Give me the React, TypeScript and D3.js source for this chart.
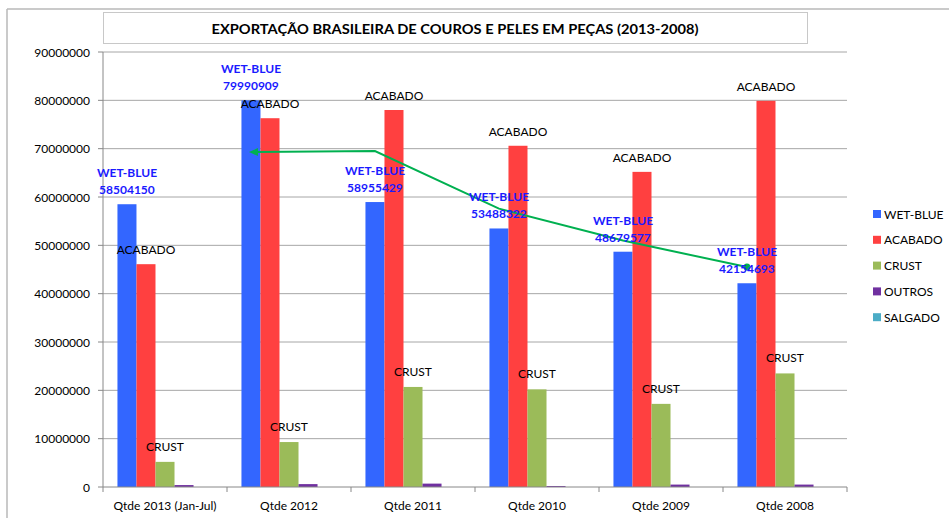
import React from "react";
import * as d3 from "d3";

const categories = ["Qtde 2013 (Jan-Jul)", "Qtde 2012", "Qtde 2011", "Qtde 2010", "Qtde 2009", "Qtde 2008"];
const seriesNames = ["WET-BLUE", "ACABADO", "CRUST", "OUTROS", "SALGADO"];
const wetBlue = [58504150, 79990909, 58955429, 53488322, 48679577, 42154693];
const acabado = [46100000, 76300000, 78000000, 70600000, 65200000, 79900000];
const crust = [5200000, 9300000, 20700000, 20200000, 17200000, 23500000];
const outros = [400000, 600000, 700000, 200000, 500000, 500000];
const salgado = [0, 0, 0, 0, 0, 0];
const yTicks = [0, 10000000, 20000000, 30000000, 40000000, 50000000, 60000000, 70000000, 80000000, 90000000];
// hand-drawn trend arrow (category index, value)
const trendCats = [1, 2, 3, 4, 5];
const trendVals = [69300000, 69500000, 57600000, 51000000, 45500000];
const title = "EXPORTAÇÃO BRASILEIRA DE COUROS E PELES EM PEÇAS (2013-2008)";

const colors = ["#3366FF", "#FF4040", "#9BBB59", "#7030A0", "#4BACC6"];
const FONT = "Lato, 'Open Sans', sans-serif";

export default function App() {
  const W = 949, H = 518;
  const left = 103, right = 847, top = 52, bottom = 487;
  const series = [wetBlue, acabado, crust, outros, salgado];
  const x0 = d3.scaleBand<string>().domain(categories).range([left, right]).paddingInner(0).paddingOuter(0);
  const x1 = d3.scaleBand<string>().domain(seriesNames).range([0, x0.bandwidth()]).paddingInner(0).paddingOuter(0.76);
  const y = d3.scaleLinear().domain([0, 90000000]).range([bottom, top]);
  const bw = x1.bandwidth();
  const cx = (ci: number, s: string) => (x0(categories[ci]) as number) + (x1(s) as number) + bw / 2;

  const line = d3.line<number>()
    .x((_, i) => cx(trendCats[i], "WET-BLUE"))
    .y((_, i) => y(trendVals[i]));
  const trendPath = line(trendVals) as string;
  const sx = cx(trendCats[0], "WET-BLUE"), sy = y(trendVals[0]);
  const ex = cx(trendCats[trendCats.length - 1], "WET-BLUE"), ey = y(trendVals[trendVals.length - 1]);

  return (
    <svg width={W} height={H} style={{ position: "absolute", left: 0, top: 0, background: "#fff" }} fontFamily={FONT}>
      <rect x={0} y={0} width={W} height={H} fill="#fff" />
      {/* outer frame */}
      <line x1={7} y1={9} x2={W} y2={9} stroke="#b8b8b8" strokeWidth={1.5} />
      <line x1={7} y1={9} x2={7} y2={H} stroke="#b8b8b8" strokeWidth={1.5} />
      {/* title box */}
      <rect x={103.5} y={12.5} width={704} height={31} fill="#fff" stroke="#c8c8c8" />
      <text x={455} y={34} textAnchor="middle" fontWeight="bold" fontSize={14} fill="#000" textLength={487} lengthAdjust="spacingAndGlyphs">{title}</text>
      {/* grid */}
      {yTicks.map((t) => (
        <g key={t}>
          {t > 0 && <line x1={left} x2={right} y1={y(t)} y2={y(t)} stroke="#a6a6a6" strokeWidth={1} />}
          <line x1={left - 5} x2={left} y1={y(t)} y2={y(t)} stroke="#888" />
          <text x={90} y={y(t) + 4.5} textAnchor="end" fontSize={12} fill="#000">{t}</text>
        </g>
      ))}
      {/* bars */}
      {series.map((vals, si) =>
        vals.map((v, ci) => (
          <rect key={si + "-" + ci} x={(x0(categories[ci]) as number) + (x1(seriesNames[si]) as number)} y={y(v)} width={bw} height={bottom - y(v)} fill={colors[si]} />
        ))
      )}
      {/* axes */}
      <line x1={left} x2={left} y1={top} y2={bottom} stroke="#888" />
      <line x1={left} x2={right} y1={bottom} y2={bottom} stroke="#888" />
      {[...categories.map((c) => x0(c) as number), right].map((xx, i) => (
        <line key={i} x1={xx} x2={xx} y1={bottom} y2={bottom + 5} stroke="#888" />
      ))}
      {categories.map((c) => (
        <text key={c} x={(x0(c) as number) + x0.bandwidth() / 2} y={510} textAnchor="middle" fontSize={12} fill="#000">{c}</text>
      ))}
      {/* trend arrow */}
      <path d={trendPath} fill="none" stroke="#00B050" strokeWidth={2} />
      <path d={`M${sx - 2},${sy} L${sx + 7},${sy - 4} L${sx + 7},${sy + 4} Z`} fill="#00B050" />
      <circle cx={ex} cy={ey} r={3.5} fill="#00B050" />
      {/* labels */}
      {acabado.map((v, ci) => (
        <text key={"a" + ci} x={cx(ci, "ACABADO")} y={y(v) - 10} textAnchor="middle" fontSize={12} fill="#000">ACABADO</text>
      ))}
      {crust.map((v, ci) => (
        <text key={"c" + ci} x={cx(ci, "CRUST")} y={y(v) - 11} textAnchor="middle" fontSize={12} fill="#000">CRUST</text>
      ))}
      {wetBlue.map((v, ci) => (
        <g key={"w" + ci}>
          <text x={cx(ci, "WET-BLUE")} y={y(v) - 27} textAnchor="middle" fontSize={12} fontWeight="bold" fill="#1A1AFF">WET-BLUE</text>
          <text x={cx(ci, "WET-BLUE")} y={y(v) - 10} textAnchor="middle" fontSize={12} fontWeight="bold" fill="#1A1AFF">{v}</text>
        </g>
      ))}
      {/* legend */}
      {seriesNames.map((s, i) => (
        <g key={s} transform={`translate(873, ${214 + i * 25.8})`}>
          <rect x={0} y={-4} width={8} height={8} fill={colors[i]} />
          <text x={11} y={4.5} fontSize={12} fill="#000">{s}</text>
        </g>
      ))}
    </svg>
  );
}
